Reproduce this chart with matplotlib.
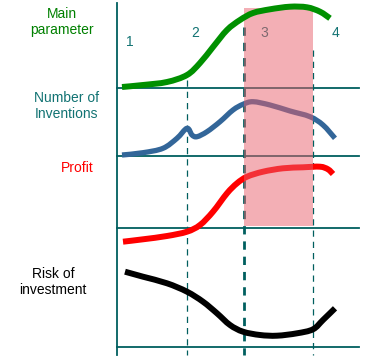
import matplotlib
matplotlib.use("Agg")
from matplotlib import pyplot as plt
from matplotlib.patches import Rectangle, PathPatch
from matplotlib.path import Path

plt.rcParams['font.family'] = ['Liberation Sans', 'DejaVu Sans']

# curves (x = time position, y = height, top = 0)
main_x = [122, 143, 167, 187, 200, 213, 227, 240, 253, 270, 290, 307, 320, 330]
main_y = [87, 85, 82, 75, 63, 47, 30, 20, 13, 9.3, 6.7, 7.3, 11.7, 18.3]

inv_x = [122, 143, 163, 177, 187, 192, 197, 207, 220, 233, 243, 253, 270, 290, 310, 323, 335]
inv_y = [155, 152.7, 148.3, 138.3, 128.3, 135, 136.7, 131.7, 121.7, 110, 104.3, 101.7, 105, 111, 116.7, 125, 138.3]

profit_x = [123, 143, 167, 187, 200, 213, 227, 237, 247, 263, 283, 303, 320, 328, 333]
profit_y = [241.7, 239.3, 236, 231.7, 225, 211.7, 193.3, 183.3, 176.7, 171.7, 168.3, 167.3, 166.7, 169.3, 174]

risk_x = [125, 143, 167, 187, 203, 217, 230, 243, 260, 277, 297, 313, 323, 335]
risk_y = [271.7, 276.7, 283.3, 291.7, 301.7, 313.3, 325, 331.7, 335, 335.7, 333.3, 329.3, 320, 308.3]

# layout of the sketch
baselines = [88, 156, 228, 347]
phase_bounds = [187, 244, 313]
phase_labels = ["1", "2", "3", "4"]
phase_label_x = [130, 195, 264, 336]
phase_label_y = [42, 33, 33, 33]

teal = "#005f5f"


def smooth_path(xs, ys):
    # catmull-rom through the points, drawn as cubic bezier segments
    pts = list(zip(xs, ys))
    verts = [pts[0]]
    codes = [Path.MOVETO]
    for i in range(len(pts) - 1):
        p0 = pts[i - 1] if i > 0 else pts[i]
        p1 = pts[i]
        p2 = pts[i + 1]
        p3 = pts[i + 2] if i + 2 < len(pts) else pts[i + 1]
        c1 = (p1[0] + (p2[0] - p0[0]) / 6, p1[1] + (p2[1] - p0[1]) / 6)
        c2 = (p2[0] - (p3[0] - p1[0]) / 6, p2[1] - (p3[1] - p1[1]) / 6)
        verts += [c1, c2, p2]
        codes += [Path.CURVE4] * 3
    return Path(verts, codes)


def draw_curve(ax, xs, ys, color, lw, z):
    ax.add_patch(PathPatch(smooth_path(xs, ys), facecolor="none", edgecolor=color,
                           linewidth=lw, capstyle="butt", joinstyle="round", zorder=z))


fig = plt.figure(figsize=(3.67, 3.59), dpi=100)
ax = fig.add_axes([0, 0, 1, 1])
ax.set_xlim(0, 367)
ax.set_ylim(359, 0)
ax.axis("off")

# axis + horizontal baselines
ax.plot([117, 117], [3, 355], color=teal, linewidth=1.3, zorder=2)
for y in baselines:
    ax.plot([117, 359], [y, y], color=teal, linewidth=1.3, zorder=2)

# phase boundaries
ax.plot([phase_bounds[0]] * 2, [80, 355], color=teal, linewidth=0.9, linestyle=(0, (5, 4)), zorder=2)
ax.plot([phase_bounds[1]] * 2, [27, 355], color=teal, linewidth=2.0, linestyle=(0, (3, 2.5)), zorder=2)
ax.plot([phase_bounds[2]] * 2, [50, 355], color=teal, linewidth=0.9, linestyle=(0, (5, 4)), zorder=2)

# curves
draw_curve(ax, inv_x, inv_y, "#336699", 3.8, 3)
draw_curve(ax, profit_x, profit_y, "#ff0000", 4.3, 3)
draw_curve(ax, risk_x, risk_y, "black", 4.3, 3)

# shaded phase 3
ax.add_patch(Rectangle((244, 8), 313 - 244, 226 - 8, facecolor="#e8606c",
                       alpha=0.5, edgecolor="none", zorder=4))

draw_curve(ax, main_x, main_y, "#009000", 4.3, 5)

# phase numbers
for lab, x, y in zip(phase_labels, phase_label_x, phase_label_y):
    ax.text(x, y, lab, color="#127373", fontsize=10, ha="center", va="center", zorder=3)

# left labels
ax.text(62, 22, "Main\nparameter", color="#008000", fontsize=10, ha="center",
        va="center", linespacing=1.15)
ax.text(67, 106, "Number of\nInventions", color="#127373", fontsize=10, ha="center",
        va="center", linespacing=1.15)
ax.text(77, 168, "Profit", color="#ff0000", fontsize=10, ha="center", va="center")
ax.text(53, 282, "Risk of\ninvestment", color="black", fontsize=10, ha="center",
        va="center", linespacing=1.15)

plt.savefig("out.png", dpi=100)
